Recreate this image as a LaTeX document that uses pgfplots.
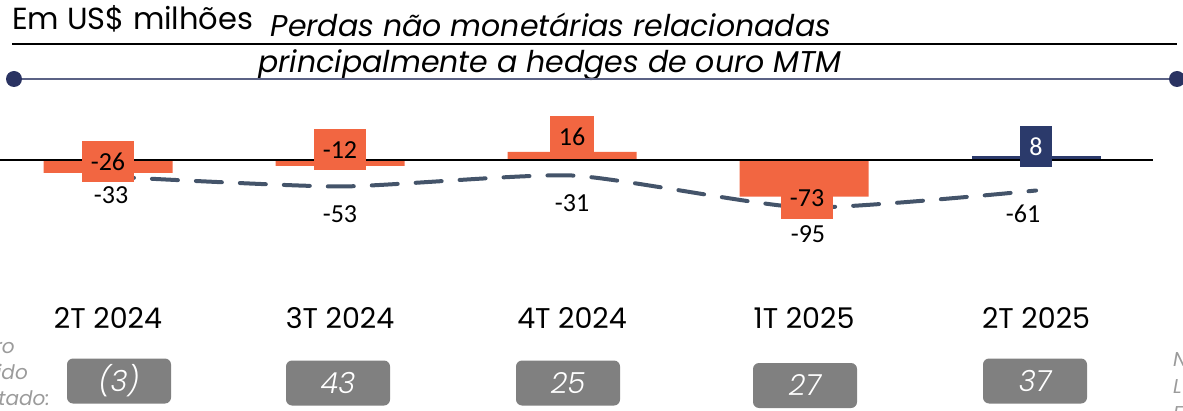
\documentclass[border=0pt]{standalone}
\usepackage{fontspec}
\setmainfont{Poppins}
\newfontfamily\calib{Carlito}
\newfontfamily\poplight{Poppins Light}[ItalicFont={Poppins Light Italic}]
\usepackage{pgfplots}
\pgfplotsset{compat=1.18}
\definecolor{orng}{HTML}{F26641}
\definecolor{navy}{HTML}{2B3A6B}
\definecolor{lineblue}{HTML}{44546A}
\definecolor{greybox}{HTML}{808080}
\definecolor{rulecol}{HTML}{5B6285}
\definecolor{dotcol}{HTML}{2A3362}
\definecolor{sidegrey}{HTML}{9B9B9B}
\begin{document}
\begin{tikzpicture}[x=1pt,y=1pt]
\useasboundingbox (0,0) rectangle (1183,410);
\clip (0,0) rectangle (1183,410);
% header
\node[anchor=base west, font=\fontsize{30.5}{30.5}\selectfont, inner sep=0pt] at (12,380) {Em US\$ milhões};
\draw[black, line width=2pt] (12,366) -- (1177,366);
\node[anchor=base, font=\itshape\fontsize{30}{30}\selectfont, inner sep=0pt] at (551,373) {Perdas não monetárias relacionadas};
\node[anchor=base, font=\itshape\fontsize{30}{30}\selectfont, inner sep=0pt] at (550,337) {principalmente a hedges de ouro MTM};
\draw[rulecol, line width=2.5pt] (14,331) -- (1177,331);
\fill[dotcol] (14,331) circle (8);
\fill[dotcol] (1177,331) circle (8);
\begin{axis}[at={(0,0)}, anchor=south west, scale only axis,
  width=1183pt, height=410pt,
  xmin=-0.46552, xmax=4.63362, ymin=-500, ymax=320,
  axis line style={draw=none}, major tick length=0pt,
  ytick=\empty, xtick={0,1,2,3,4},
  xticklabels={2T 2024,3T 2024,4T 2024,1T 2025,2T 2025},
  xticklabel style={font=\fontsize{28.5}{28.5}\selectfont, anchor=center, yshift=92pt},
  clip=false]
\addplot[ybar, bar width=129pt, bar shift=0pt, fill=orng, draw=none] coordinates {(0,-26) (1,-12) (2,16) (3,-73)};
\addplot[ybar, bar width=129pt, bar shift=0pt, fill=navy, draw=none] coordinates {(4,8)};
\draw[black, line width=2pt] (axis cs:-0.46552,0) -- (axis cs:4.504,0);
\addplot[lineblue, line width=4pt, dash pattern=on 26pt off 18pt, line cap=round, smooth, tension=0.35, mark=none] coordinates {(0,-33) (1,-53) (2,-31) (3,-95) (4,-61)};
\tikzset{boxlab/.style={font=\calib\fontsize{26}{26}\selectfont, inner xsep=9pt, inner ysep=0pt, minimum height=41pt}}
\node[boxlab, fill=orng, text=black] at (axis cs:0,-4) {-26};
\node[boxlab, fill=orng, text=black] at (axis cs:1,20) {-12};
\node[boxlab, fill=orng, text=black] at (axis cs:2,47) {16};
\node[boxlab, fill=orng, text=black] at (axis cs:3.013,-77) {-73};
\node[boxlab, fill=navy, text=white] at (axis cs:4,27) {8};
\tikzset{linelab/.style={font=\calib\fontsize{26}{26}\selectfont, inner sep=0pt, text=black}}
\node[linelab] at (axis cs:0.013,-70) {-33};
\node[linelab] at (axis cs:1,-108) {-53};
\node[linelab] at (axis cs:2,-86) {-31};
\node[linelab] at (axis cs:3.017,-148) {-95};
\node[linelab] at (axis cs:3.944,-108) {-61};
\end{axis}
% bottom grey boxes
\tikzset{gbox/.style={fill=greybox, rounded corners=6pt, minimum width=104pt, minimum height=45pt, inner sep=0pt, text=white, font=\poplight\itshape\fontsize{29}{29}\selectfont}}
\node[gbox] at (119,29) {(3)};
\node[gbox] at (338,27) {43};
\node[gbox] at (568,27) {25};
\node[gbox] at (805,24.5) {27};
\node[gbox] at (1035,29) {37};
% cut-off side texts
\tikzset{side/.style={text=sidegrey, font=\itshape\fontsize{20}{20}\selectfont, inner sep=0pt}}
\node[side, anchor=base east] at (15,57) {ro};
\node[side, anchor=base east] at (28,31) {ido};
\node[side, anchor=base east] at (50,5) {tado:};
\node[side, anchor=base west] at (1173,44) {N};
\node[side, anchor=base west] at (1173,17) {L};
\node[side, anchor=base west] at (1173,-10) {F};
\end{tikzpicture}
\end{document}
